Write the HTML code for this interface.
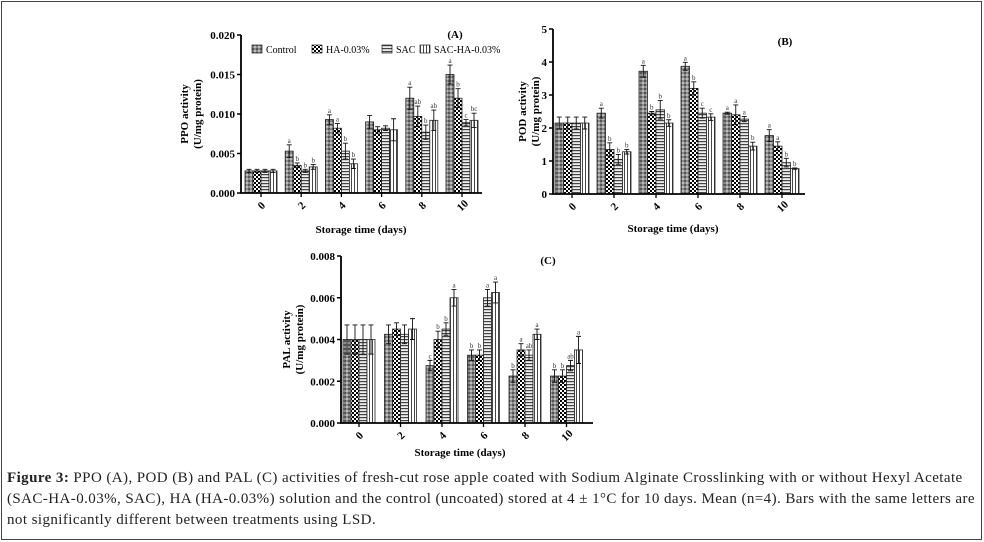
<!DOCTYPE html>
<html><head><meta charset="utf-8">
<style>
body{margin:0;background:#fff;}
#wrap{position:relative;width:984px;height:542px;overflow:hidden;}
svg text{font-family:"Liberation Serif",serif;}
#cap{position:absolute;left:7px;top:468px;width:972px;font-family:"Liberation Serif",serif;font-size:15px;letter-spacing:0.42px;line-height:21px;color:#222;white-space:nowrap;}
</style></head>
<body>
<div id="wrap">
<svg id="svg" width="984" height="542" xmlns="http://www.w3.org/2000/svg">
<defs>
<pattern id="pCtrl" width="4" height="4" patternUnits="userSpaceOnUse">
<rect width="4" height="4" fill="#8a8a8a"/><rect width="2" height="2" fill="#555"/><rect x="2" y="2" width="2" height="2" fill="#bbb"/></pattern>
<pattern id="pHA" width="4" height="4" patternUnits="userSpaceOnUse">
<rect width="4" height="4" fill="#fff"/><rect width="2" height="2" fill="#000"/><rect x="2" y="2" width="2" height="2" fill="#000"/></pattern>
<pattern id="pSAC" width="4" height="3" patternUnits="userSpaceOnUse">
<rect width="4" height="3" fill="#eee"/><rect width="4" height="1.2" fill="#444"/></pattern>
<pattern id="pSH" width="3" height="4" patternUnits="userSpaceOnUse">
<rect width="3" height="4" fill="#fff"/><rect width="0.9" height="4" fill="#333"/></pattern>
</defs>
<rect x="1.5" y="1.5" width="980" height="538" fill="none" stroke="#444" stroke-width="1"/>
</svg>
<div id="cap"><b>Figure 3:</b> PPO (A), POD (B) and PAL (C) activities of fresh-cut rose apple coated with Sodium Alginate Crosslinking with or without Hexyl Acetate<br>(SAC-HA-0.03%, SAC), HA (HA-0.03%) solution and the control (uncoated) stored at 4 ± 1°C for 10 days. Mean (n=4). Bars with the same letters are<br>not significantly different between treatments using LSD.</div>
</div>
<script>
const days=["0","2","4","6","8","10"];
const seriesNames=["Control","HA-0.03%","SAC","SAC-HA-0.03%"];
const fills=["url(#pCtrl)","url(#pHA)","url(#pSAC)","url(#pSH)"];
// PPO (A)
const ppoCtrl=[0.0028,0.0053,0.0093,0.0090,0.0120,0.0150];
const ppoHA=[0.0028,0.0035,0.0082,0.0080,0.0097,0.0120];
const ppoSAC=[0.0028,0.0028,0.0053,0.0082,0.0077,0.0089];
const ppoSH=[0.0028,0.0033,0.0037,0.0080,0.0092,0.0092];
const ppoErr=[[.0002,.0008,.0006,.0008,.0014,.0012],[.0002,.0003,.0006,.0004,.0013,.0012],[.0002,.0002,.0010,.0003,.0009,.0004],[.0002,.0003,.0006,.0014,.0013,.0009]];
const ppoLet=[["","a","a","","a","a"],["","b","a","","ab","b"],["","b","b","","b","c"],["","b","b","","ab","bc"]];
const ppoTicks=[0,0.005,0.010,0.015,0.020];
// POD (B)
const podCtrl=[2.15,2.45,3.72,3.87,2.45,1.77];
const podHA=[2.15,1.35,2.45,3.20,2.40,1.45];
const podSAC=[2.15,1.05,2.55,2.45,2.27,0.95];
const podSH=[2.15,1.28,2.15,2.33,1.45,0.77];
const podErr=[[.18,.15,.18,.12,.03,.18],[.18,.2,.05,.2,.3,.13],[.18,.15,.28,.15,.08,.13],[.18,.07,.1,.1,.12,.02]];
const podLet=[["","a","a","a","a","a"],["","b","b","b","a","a"],["","b","b","c","a","b"],["","b","b","c","b","b"]];
const podTicks=[0,1,2,3,4,5];
// PAL (C)
const palCtrl=[0.0040,0.00425,0.00275,0.00325,0.00225,0.00225];
const palHA=[0.0040,0.0045,0.0040,0.00325,0.0035,0.00225];
const palSAC=[0.0040,0.00425,0.0045,0.0060,0.00325,0.00275];
const palSH=[0.0040,0.0045,0.0060,0.00625,0.00425,0.0035];
const palErr=[[.0007,.00045,.00025,.00025,.0003,.0003],[.0007,.0003,.0004,.00025,.0003,.0003],[.0007,.00045,.0003,.0004,.00025,.00025],[.0007,.0005,.0004,.0005,.00025,.00065]];
const palLet=[["","","c","b","b","b"],["","","b","b","a","b"],["","","b","a","ab","ab"],["","","a","a","a","a"]];
const palTicks=[0,0.002,0.004,0.006,0.008];

const NS="http://www.w3.org/2000/svg";
const svg=document.getElementById('svg');
function mk(tag,attrs,parent){const e=document.createElementNS(NS,tag);for(const k in attrs)e.setAttribute(k,attrs[k]);(parent||svg).appendChild(e);return e;}

function chart(c){
  const g=mk('g',{});
  
  
  const y=v=>c.y0-(v/c.ymax)*(c.y0-c.yTop);
  const xc=i=>c.cx0+i*c.step;
  const series=c.series;
  for(let i=0;i<days.length;i++){
    for(let s=0;s<4;s++){
      const v=series[s][i];
      const bx=xc(i)-2*c.bw+s*c.bw;
      const r=mk('rect',{x:bx,y:y(v),width:c.bw,height:c.y0-y(v),fill:fills[s],stroke:'#222','stroke-width':0.8},g);
      
      
      const e=c.err[s][i],mx=bx+c.bw/2;
      const eb=mk('path',{d:`M${mx},${y(v+e)}V${y(v-e)}M${mx-2.5},${y(v+e)}H${mx+2.5}M${mx-2.5},${y(v-e)}H${mx+2.5}`,stroke:'#111','stroke-width':0.9,fill:'none'},g);
      
      
      const L=c.lets[s][i];
      if(L){const t=mk('text',{x:mx,y:y(v+e)-2,'font-size':7,'text-anchor':'middle',fill:'#333'},g);t.textContent=L;
        
        }
    }
    const tx=xc(i);
    mk('line',{x1:tx,x2:tx,y1:c.y0,y2:c.y0+4,stroke:'#000','stroke-width':1.3},g);
    const lab=mk('text',{transform:`translate(${tx+3},${c.y0+15}) rotate(-45)`,'font-size':11,'font-weight':'bold','text-anchor':'middle'},g);
    lab.textContent=days[i];
    
    
  }
  const ax=mk('path',{d:`M${c.x0},${c.yTop}V${c.y0}H${c.xEnd}`,stroke:'#000','stroke-width':1.8,fill:'none'},g);
  
  
  c.ticks.forEach(v=>{
    mk('line',{x1:c.x0-4,x2:c.x0,y1:y(v),y2:y(v),stroke:'#000','stroke-width':1.5},g);
    const t=mk('text',{x:c.x0-6,y:y(v)+4,'font-size':11,'font-weight':'bold','text-anchor':'end'},g);
    t.textContent=c.fmt(v);
    
    
  });
  const ym=(c.y0+c.yTop)/2;
  const t1=mk('text',{transform:`translate(${c.ylx},${ym}) rotate(-90)`,'font-size':11,'font-weight':'bold','text-anchor':'middle'},g);
  t1.textContent=c.ylab1;
  
  
  const t2=mk('text',{transform:`translate(${c.ylx+13},${ym}) rotate(-90)`,'font-size':11,'font-weight':'bold','text-anchor':'middle'},g);
  t2.textContent='(U/mg protein)';
  
  
  const pl=mk('text',{x:c.px,y:c.py,'font-size':11,'font-weight':'bold','text-anchor':'middle'},g);
  pl.textContent=c.panel;
  
  
  const xt=mk('text',{x:c.xtx,y:c.xty,'font-size':11,'font-weight':'bold','text-anchor':'middle'},g);
  xt.textContent='Storage time (days)';
  
  
}
chart({name:'ppo-chart',key:'ppo',series:[ppoCtrl,ppoHA,ppoSAC,ppoSH],err:ppoErr,lets:ppoLet,ticks:ppoTicks,fmt:v=>v.toFixed(3),
  x0:241,y0:193,yTop:35,ymax:0.020,cx0:261,step:40.2,bw:8,xEnd:482,ylx:188,ylab1:'PPO activity',panel:'(A)',px:455,py:38,xtx:361,xty:233});
chart({name:'pod-chart',key:'pod',series:[podCtrl,podHA,podSAC,podSH],err:podErr,lets:podLet,ticks:podTicks,fmt:v=>String(v),
  x0:553,y0:194,yTop:29,ymax:5,cx0:572,step:42,bw:8.5,xEnd:805,ylx:526,ylab1:'POD activity',panel:'(B)',px:785,py:45,xtx:673,xty:232});
chart({name:'pal-chart',key:'pal',series:[palCtrl,palHA,palSAC,palSH],err:palErr,lets:palLet,ticks:palTicks,fmt:v=>v.toFixed(3),
  x0:341,y0:423,yTop:256,ymax:0.008,cx0:359,step:41.5,bw:8,xEnd:593,ylx:290,ylab1:'PAL activity',panel:'(C)',px:548,py:264,xtx:460,xty:456});
// legend
const lg=mk('g',{});


const lx=[252,312,382,420];
seriesNames.forEach((n,i)=>{
  const r=mk('rect',{x:lx[i],y:45,width:10,height:8,fill:fills[i],stroke:'#222','stroke-width':0.7},lg);
  
  
  const t=mk('text',{x:lx[i]+14,y:53,'font-size':10},lg);
  t.textContent=n;
  
  
});
</script>
</body></html>
